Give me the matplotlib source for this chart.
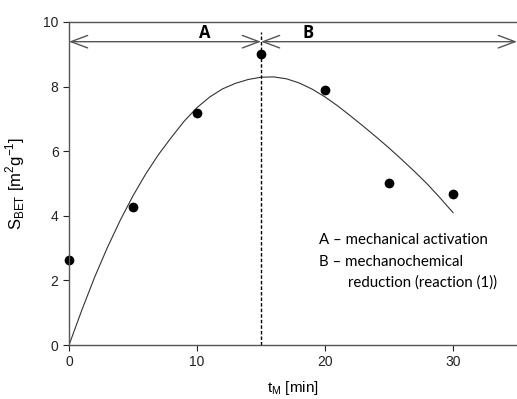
import matplotlib.pyplot as plt

# measured S_BET points
t_min = [0, 5, 10, 15, 20, 25, 30]
s_bet = [2.62, 4.27, 7.17, 9.02, 7.9, 5.02, 4.66]

# fitted curve
fit_t = [0, 1, 2, 3, 4, 5, 6, 7, 8, 9, 10, 11, 12, 13, 14, 15, 16, 17, 18, 19,
         20, 21, 22, 23, 24, 25, 26, 27, 28, 29, 30]
fit_s = [0.0, 1.08, 2.10, 3.02, 3.86, 4.62, 5.30, 5.90, 6.43, 6.93, 7.35, 7.68,
         7.93, 8.10, 8.22, 8.29, 8.30, 8.24, 8.11, 7.92, 7.68, 7.40, 7.09, 6.77,
         6.44, 6.10, 5.74, 5.37, 4.98, 4.55, 4.10]

x_ticks = [0, 10, 20, 30]
y_ticks = [0, 2, 4, 6, 8, 10]
t_split = 15

plt.rcParams['font.family'] = ['Liberation Sans', 'DejaVu Sans']

fig = plt.figure(figsize=(5.17, 3.99), dpi=100)
ax = fig.add_axes([0.1335, 0.1353, 0.8665, 0.8096])

ax.plot(fit_t, fit_s, color='#333333', lw=0.8)
ax.plot(t_min, s_bet, 'o', color='black', ms=6, clip_on=False)

# region boundary
ax.plot([t_split, t_split], [0, 9.7], color='black', lw=1, ls=(0, (2.5, 1.5)))

arrow_kw = dict(arrowstyle='<->,head_length=1.2,head_width=0.45', color='#555555',
                lw=1.0, shrinkA=0, shrinkB=0)
ax.annotate('', xy=(t_split, 9.39), xytext=(0, 9.39), arrowprops=arrow_kw,
            annotation_clip=False)
ax.annotate('', xy=(35, 9.39), xytext=(t_split, 9.39), arrowprops=arrow_kw,
            annotation_clip=False)
ax.text(10.6, 9.67, 'A', ha='center', va='center', fontsize=12, fontweight='bold',
        family=['Open Sans', 'DejaVu Sans'])
ax.text(18.7, 9.67, 'B', ha='center', va='center', fontsize=12, fontweight='bold',
        family=['Open Sans', 'DejaVu Sans'])

note_font = ['Lato', 'DejaVu Sans']
ax.text(19.5, 3.24, 'A \u2013 mechanical activation', fontsize=10.8, va='center',
        family=note_font)
ax.text(19.5, 2.56, 'B \u2013 mechanochemical', fontsize=10.8, va='center',
        family=note_font)
ax.text(21.8, 1.94, 'reduction (reaction (1))', fontsize=10.8, va='center',
        family=note_font)

ax.set_xlim(0, 35)
ax.set_ylim(0, 10)
ax.set_xticks(x_ticks)
ax.set_yticks(y_ticks)
ax.tick_params(direction='out', length=4, width=0.8, labelsize=10,
               colors='#222222')
for side in ['left', 'bottom', 'top']:
    ax.spines[side].set_color('#555555')
    ax.spines[side].set_linewidth(1)
ax.spines['right'].set_visible(False)

ax.set_xlabel(r't$_\mathregular{M}$ [min]', fontsize=11, labelpad=7)
ax.set_ylabel(r'S$_\mathregular{BET}$ [m$^\mathregular{2}$g$^\mathregular{-1}$]',
              fontsize=12, labelpad=12)

fig.savefig('out.png', dpi=100)
